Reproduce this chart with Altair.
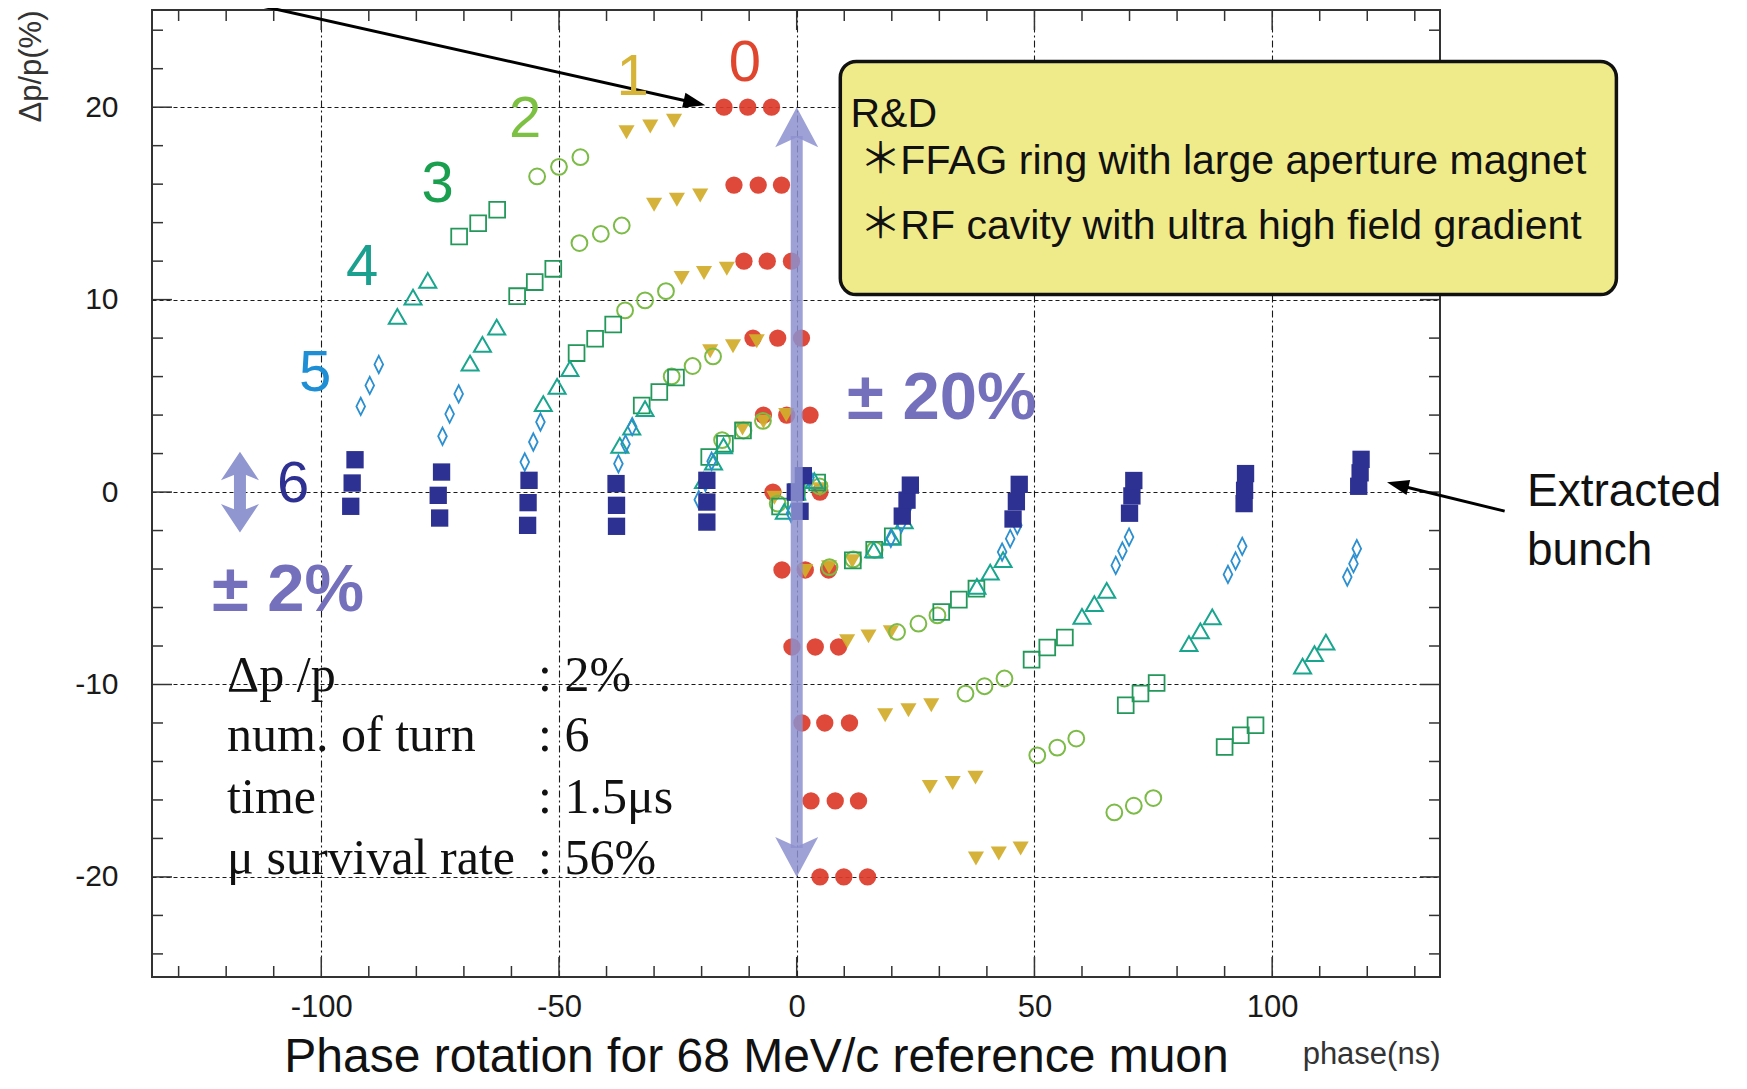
import altair as alt
import pandas as pd

# ---------------- data ----------------
bunch_dp0 = [20, 16, 12, 8, 4, 0, -4, -8, -12, -16, -20]

turn0_phase = [-15.3, -10.3, -5.3, -13.2, -8.1, -3.2, -11.1, -6.2, -1.1, -9.2, -4.0, 1.0,
               -7.0, -2.1, 2.8, -5.0, 0.0, 4.9, -3.1, 1.8, 6.7, -1.0, 3.9, 8.8,
               1.1, 5.9, 11.1, 3.0, 8.1, 13.0, 4.9, 9.9, 14.9]
turn0_dp = [20.0, 20.0, 20.0, 15.95, 15.95, 15.95, 12.0, 12.0, 12.0, 8.0, 8.0, 8.0,
            4.0, 4.0, 4.0, 0.0, 0.0, 0.0, -4.05, -4.05, -4.05, -8.05, -8.05, -8.05,
            -12.0, -12.0, -12.0, -16.05, -16.05, -16.05, -20.0, -20.0, -20.0]

turn1_phase = [-35.8, -30.8, -25.8, -30.0, -25.2, -20.3, -24.2, -19.5, -14.7, -18.2, -13.4, -8.4,
               -11.4, -7.0, -2.2, -4.7, 0.0, 4.9, 1.8, 6.8, 11.7, 10.6, 15.1, 19.8,
               18.6, 23.5, 28.3, 28.0, 32.8, 37.6, 37.7, 42.5, 47.1]
turn1_dp = [18.7, 19.0, 19.3, 14.93, 15.19, 15.41, 11.12, 11.38, 11.6, 7.32, 7.58, 7.84,
            3.3, 3.65, 4.0, -0.3, 0.0, 0.15, -4.1, -3.9, -3.6, -7.75, -7.5, -7.28,
            -11.6, -11.34, -11.08, -15.32, -15.12, -14.84, -19.04, -18.78, -18.52]

turn2_phase = [-54.6, -50.0, -45.5, -45.7, -41.2, -36.8, -36.1, -31.9, -27.5, -26.3, -21.9, -17.6,
               -15.7, -11.2, -7.1, -4.0, 0.0, 4.8, 6.9, 11.9, 16.4, 21.1, 25.6, 29.6,
               35.5, 39.5, 43.7, 50.6, 54.8, 58.8, 66.8, 70.9, 75.0]
turn2_dp = [16.4, 16.9, 17.4, 12.94, 13.42, 13.85, 9.44, 9.96, 10.44, 6.01, 6.55, 7.05,
            2.7, 3.2, 3.7, -0.6, 0.0, 0.3, -3.9, -3.5, -3.0, -7.27, -6.84, -6.41,
            -10.47, -10.09, -9.69, -13.68, -13.28, -12.81, -16.65, -16.3, -15.9]

turn3_phase = [-71.0, -67.0, -63.0, -58.8, -55.1, -51.2, -46.3, -42.4, -38.6, -32.6, -28.9, -25.4,
               -18.4, -15.1, -11.3, -3.5, 0.0, 4.3, 11.8, 16.3, 20.2, 30.4, 34.1, 37.8,
               49.4, 52.7, 56.4, 69.2, 72.3, 75.7, 90.0, 93.4, 96.5]
turn3_dp = [13.28, 13.97, 14.67, 10.18, 10.91, 11.6, 7.22, 7.97, 8.71, 4.5, 5.2, 5.95,
            1.82, 2.51, 3.2, -0.75, 0.0, 0.5, -3.55, -3.0, -2.3, -6.23, -5.59, -5.02,
            -8.71, -8.08, -7.56, -11.08, -10.47, -9.92, -13.25, -12.64, -12.12]

turn4_phase = [-84.0, -80.7, -77.6, -68.7, -66.1, -63.1, -53.3, -50.4, -47.7, -37.2, -34.7, -31.9,
               -19.6, -17.5, -15.4, -2.6, 0.0, 3.7, 16.2, 20.0, 22.6, 37.9, 40.7, 43.4,
               60.0, 62.6, 65.2, 82.5, 84.9, 87.4, 106.4, 108.9, 111.3]
turn4_dp = [9.13, 10.13, 11.0, 6.7, 7.67, 8.57, 4.59, 5.49, 6.41, 2.43, 3.38, 4.33,
            0.6, 1.56, 2.4, -1.0, 0.0, 0.6, -3.0, -2.35, -1.5, -4.9, -4.16, -3.51,
            -6.46, -5.8, -5.11, -7.88, -7.22, -6.49, -9.05, -8.4, -7.8]

turn5_phase = [-91.7, -89.8, -87.9, -74.5, -73.0, -71.1, -57.2, -55.4, -53.9, -37.5, -36.0, -34.6,
               -20.6, -19.2, -17.9, -1.2, 0.0, 2.7, 19.8, 22.0, 23.4, 43.2, 44.9, 46.4,
               67.1, 68.5, 69.9, 90.7, 92.3, 93.7, 115.8, 117.1, 117.8]
turn5_dp = [4.45, 5.54, 6.63, 2.9, 4.05, 5.1, 1.56, 2.6, 3.64, 1.47, 2.5, 3.4,
            -0.4, 0.5, 1.6, -1.1, 0.0, 0.75, -2.4, -1.65, -0.75, -3.12, -2.42, -1.73,
            -3.81, -3.06, -2.34, -4.28, -3.58, -2.82, -4.42, -3.72, -2.94]

turn6_phase = [-93.8, -93.5, -92.9, -75.1, -75.4, -74.7, -56.6, -56.5, -56.3, -37.9, -37.9, -38.0,
               -18.9, -18.9, -18.9, 0.7, -0.3, 1.4, 22.2, 23.2, 23.9, 45.5, 46.2, 46.8,
               70.0, 70.5, 70.9, 94.1, 94.2, 94.4, 118.2, 118.5, 118.7]
turn6_dp = [-0.74, 0.47, 1.68, -1.35, -0.17, 1.04, -1.73, -0.55, 0.61, -1.78, -0.69, 0.44,
            -1.56, -0.52, 0.61, -1.0, 0.0, 0.85, -1.25, -0.42, 0.36, -1.4, -0.5, 0.4,
            -1.1, -0.2, 0.6, -0.6, 0.09, 0.96, 0.3, 1.0, 1.7]

x_label_values = [-100, -50, 0, 50, 100]
y_label_values = [-20, -10, 0, 10, 20]
x_tick_values = list(range(-130, 131, 10))
y_tick_values = list(range(-24, 25, 2))

turn_labels = ["0", "1", "2", "3", "4", "5", "6"]
turn_label_phase = [-10.9, -34.5, -57.1, -75.5, -91.4, -101.3, -105.9]
turn_label_dp = [21.38, 20.65, 18.46, 15.09, 10.77, 5.25, -0.5]
turn_label_colors = ["#e0452e", "#d6b437", "#7dc142", "#1a9f4f", "#1ba08f", "#1e8fd5", "#2e3192"]

info_names = ["\u0394p /p", "num. of turn", "time", "\u03bc survival rate"]
info_values = [":  2%", ":  6", ":  1.5\u03bcs", ":  56%"]
info_dp = [-10.34, -13.48, -16.66, -19.83]

box_lines = ["R&D", "FFAG ring with large aperture magnet", "RF cavity with ultra high field gradient"]
box_line_phase = [11.3, 21.8, 21.8]
box_line_dp = [18.98, 16.52, 13.15]
star_phase = [17.6, 17.6]
star_dp = [17.28, 13.9]

# ---------------- layout ----------------
X0, X1 = -135.6, 135.3
Y0, Y1 = -25.2, 25.05
W, H = 1288, 967
SX = W / (X1 - X0)
SY = H / (Y1 - Y0)

xs = alt.Scale(domain=[X0, X1], nice=False, zero=False)
ys = alt.Scale(domain=[Y0, Y1], nice=False, zero=False)

x_axis = alt.Axis(values=x_label_values, grid=True, gridColor="#1a1a1a", gridDash=[7, 3, 2, 3],
                  gridWidth=1.1, ticks=False, tickSize=0, domain=False,
                  labelFont="Liberation Sans", labelFontSize=31, labelColor="#1a1a1a",
                  labelPadding=15, labelExpr="datum.value + ''", labelFlush=False,
                  title="phase(ns)", titleFont="Liberation Sans", titleFontSize=31,
                  titleFontWeight="normal", titleColor="#333333", titleAnchor="end",
                  titleAlign="right", titleBaseline="alphabetic", titleX=W, titleY=86)
y_axis = alt.Axis(values=y_label_values, grid=True, gridColor="#1a1a1a", gridDash=[4, 3],
                  gridWidth=1.1, ticks=False, tickSize=0, domain=False,
                  labelFont="Liberation Sans", labelFontSize=30, labelColor="#1a1a1a",
                  labelPadding=34, labelExpr="datum.value + ''",
                  title="\u0394p/p(%)", titleFont="Liberation Sans", titleFontSize=31,
                  titleFontWeight="normal", titleColor="#333333", titleAngle=270,
                  titleAlign="right", titleBaseline="middle", titleX=-121, titleY=0)


def X(field="phase"):
    return alt.X(f"{field}:Q", scale=xs, axis=x_axis)


def Y(field="dp"):
    return alt.Y(f"{field}:Q", scale=ys, axis=y_axis)


layers = []

# inward ticks on all four sides
TMIN, TMAJ = 11, 20
tick_rows = []
for v in x_tick_values:
    L = TMAJ if v % 50 == 0 else TMIN
    tick_rows.append(dict(x=v, x2=v, y=Y0, y2=Y0 + L / SY))
    tick_rows.append(dict(x=v, x2=v, y=Y1, y2=Y1 - L / SY))
for v in y_tick_values:
    L = TMAJ if v % 10 == 0 else TMIN
    tick_rows.append(dict(x=X0, x2=X0 + L / SX, y=v, y2=v))
    tick_rows.append(dict(x=X1, x2=X1 - L / SX, y=v, y2=v))
ticks_df = pd.DataFrame(tick_rows)
layers.append(
    alt.Chart(ticks_df).mark_rule(color="#333333", strokeWidth=1.5).encode(
        x=X("x"), x2="x2:Q", y=Y("y"), y2="y2:Q")
)

# yellow box
box_df = pd.DataFrame({"x": [9.17], "x2": [172.4], "y": [22.38], "y2": [10.26]})
layers.append(
    alt.Chart(box_df).mark_rect(fill="#efeb8a", stroke="#111111", strokeWidth=3.5,
                                cornerRadius=16, clip=False).encode(
        x=X("x"), x2="x2:Q", y=Y("y"), y2="y2:Q")
)

# data points, one layer per turn
turn_data = [
    (turn0_phase, turn0_dp, dict(shape="circle", filled=True, color="#dc3b2b", size=300, opacity=0.93)),
    (turn1_phase, turn1_dp, dict(shape="triangle-down", filled=True, color="#d2ad2b", size=260, opacity=0.93)),
    (turn2_phase, turn2_dp, dict(shape="circle", filled=False, color="#7bbb46", size=250, strokeWidth=2, opacity=1)),
    (turn3_phase, turn3_dp, dict(shape="square", filled=False, color="#23985a", size=250, strokeWidth=1.8, opacity=1)),
    (turn4_phase, turn4_dp, dict(shape="triangle-up", filled=False, color="#19a58e", size=290, strokeWidth=2, opacity=1)),
    (turn5_phase, turn5_dp, dict(shape="M0,-1L0.5,0L0,1L-0.5,0Z", filled=False, color="#2b8fd0", size=300, strokeWidth=1.8, opacity=1)),
    (turn6_phase, turn6_dp, dict(shape="square", filled=True, color="#2d3192", size=300, opacity=1)),
]
for ph, dp, st in turn_data:
    df = pd.DataFrame({"phase": ph, "dp": dp})
    layers.append(alt.Chart(df).mark_point(**st).encode(x=X(), y=Y()))

# big +-20% arrow at phase 0
ARROW_COL = "#8d90cf"
big_shaft = pd.DataFrame({"x": [0.0], "y": [-18.5], "y2": [18.5]})
layers.append(alt.Chart(big_shaft).mark_rule(color=ARROW_COL, strokeWidth=12, opacity=0.85).encode(
    x=X("x"), y=Y("y"), y2="y2:Q"))
big_up = pd.DataFrame({"x": [0.0], "y": [18.96]})
big_dn = pd.DataFrame({"x": [0.0], "y": [-18.96]})
layers.append(alt.Chart(big_up).mark_point(shape="M0,-0.93L1,0.93L0,0.47L-1,0.93Z", filled=True,
                                           color=ARROW_COL, size=1849, opacity=0.85).encode(x=X("x"), y=Y("y")))
layers.append(alt.Chart(big_dn).mark_point(shape="M0,0.93L1,-0.93L0,-0.47L-1,-0.93Z", filled=True,
                                           color=ARROW_COL, size=1849, opacity=0.85).encode(x=X("x"), y=Y("y")))

# small +-2% arrow
SMALL_COL = "#9096d0"
small_shaft = pd.DataFrame({"x": [-117.1], "y": [-1.05], "y2": [1.05]})
layers.append(alt.Chart(small_shaft).mark_rule(color=SMALL_COL, strokeWidth=12).encode(
    x=X("x"), y=Y("y"), y2="y2:Q"))
small_up = pd.DataFrame({"x": [-117.1], "y": [1.36]})
small_dn = pd.DataFrame({"x": [-117.1], "y": [-1.36]})
layers.append(alt.Chart(small_up).mark_point(shape="M0,-0.75L1,0.75L0,0.35L-1,0.75Z", filled=True,
                                             color=SMALL_COL, size=1444, opacity=1).encode(x=X("x"), y=Y("y")))
layers.append(alt.Chart(small_dn).mark_point(shape="M0,0.75L1,-0.75L0,-0.35L-1,-0.75Z", filled=True,
                                             color=SMALL_COL, size=1444, opacity=1).encode(x=X("x"), y=Y("y")))

# black pointer arrows
lines_df = pd.DataFrame({"x": [-118.2, 148.9], "y": [25.57, -0.99], "x2": [-21.5, 126.4], "y2": [20.23, 0.37]})
layers.append(alt.Chart(lines_df).mark_rule(color="#000000", strokeWidth=3, clip=False).encode(
    x=X("x"), y=Y("y"), x2="x2:Q", y2="y2:Q"))
heads_df = pd.DataFrame({"x": [-21.5], "y": [20.23]})
layers.append(alt.Chart(heads_df).mark_point(shape="M1,0L-1,-0.7L-1,0.7Z", filled=True, color="#000000",
                                             size=484, angle=12.6, opacity=1, clip=False).encode(x=X("x"), y=Y("y")))
heads2_df = pd.DataFrame({"x": [126.4], "y": [0.37]})
layers.append(alt.Chart(heads2_df).mark_point(shape="M1,0L-1,-0.7L-1,0.7Z", filled=True, color="#000000",
                                              size=484, angle=193.8, opacity=1, clip=False).encode(x=X("x"), y=Y("y")))

# turn number labels
tl_df = pd.DataFrame({"t": turn_labels, "x": turn_label_phase, "y": turn_label_dp, "c": turn_label_colors})
layers.append(alt.Chart(tl_df).mark_text(font="Liberation Sans", fontSize=58, align="center",
                                         baseline="alphabetic", clip=False).encode(
    x=X("x"), y=Y("y"), text="t:N", color=alt.Color("c:N", scale=None)))

# +-20% / +-2%
pm_df = pd.DataFrame({"t": ["\u00b1 20%", "\u00b1 2%"], "x": [10.6, -123.0], "y": [3.8, -6.18]})
layers.append(alt.Chart(pm_df).mark_text(font="Liberation Sans", fontSize=67, fontWeight="bold",
                                         align="left", baseline="alphabetic", color="#7470bb",
                                         clip=False).encode(x=X("x"), y=Y("y"), text="t:N"))

# info block (serif)
info_df = pd.DataFrame({"t": info_names, "x": [-119.8] * 4, "y": info_dp})
layers.append(alt.Chart(info_df).mark_text(font="Liberation Serif", fontSize=50, align="left",
                                           baseline="alphabetic", color="#111111", clip=False).encode(
    x=X("x"), y=Y("y"), text="t:N"))
info2_df = pd.DataFrame({"t": info_values, "x": [-54.4] * 4, "y": info_dp})
layers.append(alt.Chart(info2_df).mark_text(font="Liberation Serif", fontSize=50, align="left",
                                            baseline="alphabetic", color="#111111", clip=False).encode(
    x=X("x"), y=Y("y"), text="t:N"))

# box text
bt_df = pd.DataFrame({"t": box_lines, "x": box_line_phase, "y": box_line_dp})
layers.append(alt.Chart(bt_df).mark_text(font="Liberation Sans", fontSize=41, align="left",
                                         baseline="alphabetic", color="#111111", clip=False).encode(
    x=X("x"), y=Y("y"), text="t:N"))
star_df = pd.DataFrame({"t": ["\uff0a", "\uff0a"], "x": star_phase, "y": star_dp})
layers.append(alt.Chart(star_df).mark_text(font="Noto Sans CJK JP", fontSize=42, align="center",
                                           baseline="middle", color="#111111", clip=False).encode(
    x=X("x"), y=Y("y"), text="t:N"))

# extracted bunch + caption
ex_df = pd.DataFrame({"t": ["Extracted", "bunch"], "x": [153.6, 153.6], "y": [-0.72, -3.79]})
layers.append(alt.Chart(ex_df).mark_text(font="Liberation Sans", fontSize=46, align="left",
                                         baseline="alphabetic", color="#111111", clip=False).encode(
    x=X("x"), y=Y("y"), text="t:N"))
cap_df = pd.DataFrame({"t": ["Phase rotation for 68 MeV/c reference muon"], "x": [-8.46], "y": [-30.14]})
layers.append(alt.Chart(cap_df).mark_text(font="Liberation Sans", fontSize=48, align="center",
                                          baseline="alphabetic", color="#111111", clip=False).encode(
    x=X("x"), y=Y("y"), text="t:N"))

chart = alt.layer(*layers).properties(
    width=W, height=H,
    padding={"left": 144, "top": 2, "right": 299, "bottom": 104},
    autosize=alt.AutoSizeParams(type="none"),
    background="white",
).configure_view(stroke="#333333", strokeWidth=2)

chart.save("out.html", embed_options={"renderer": "svg", "actions": False})
